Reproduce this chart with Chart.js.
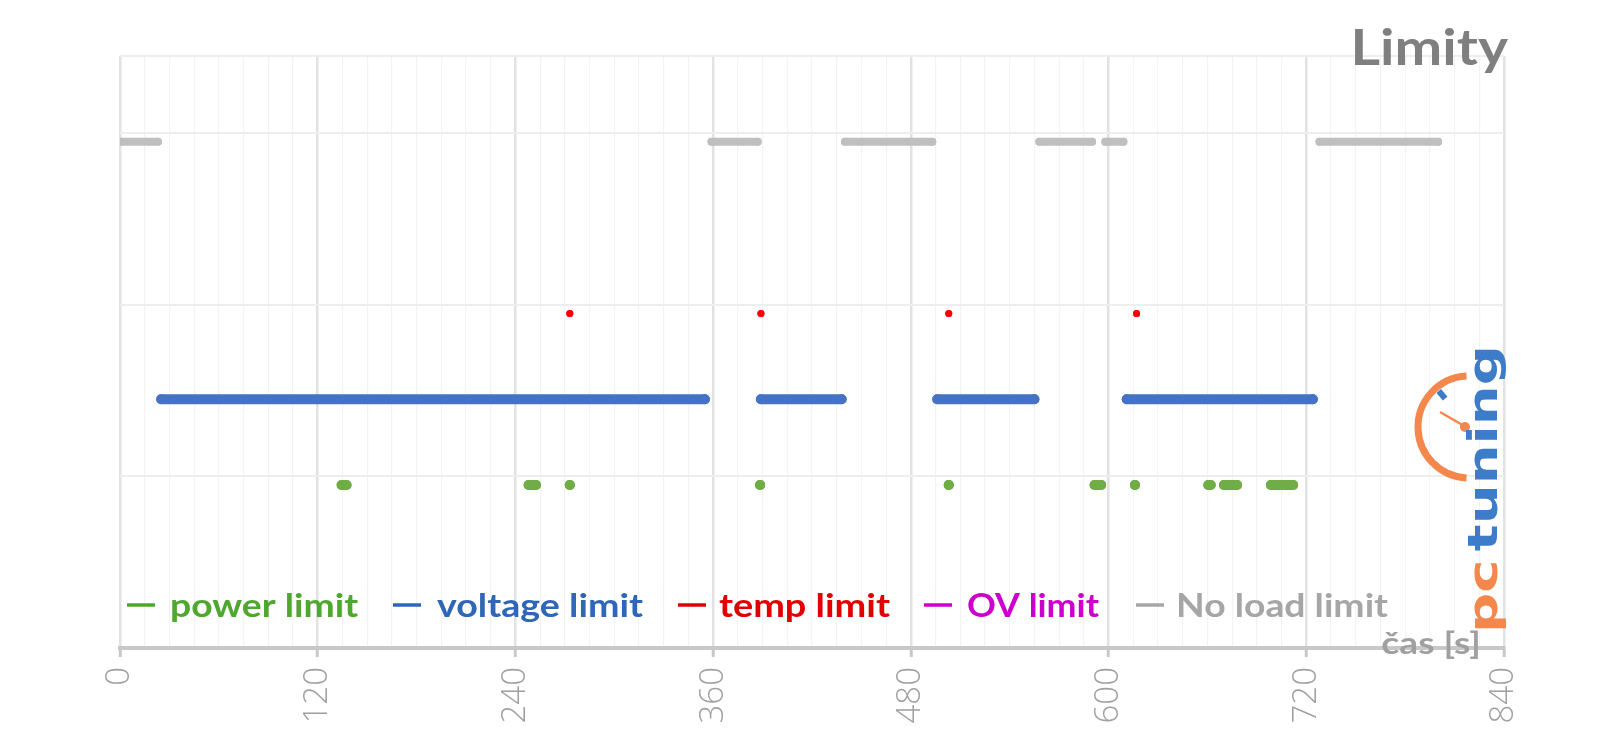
<!DOCTYPE html>
<html>
<head>
<meta charset="utf-8">
<script src="https://cdn.jsdelivr.net/npm/chart.js@4.4.1/dist/chart.umd.min.js"></script>
<style>
html,body{margin:0;padding:0;background:#fff;}
#wrap{width:1600px;height:745px;}
</style>
</head>
<body>
<div id="wrap"><canvas id="c" width="1600" height="745"></canvas></div>
<script>
// ---- data (seconds) ----
const xTickLabels = [0, 120, 240, 360, 480, 600, 720, 840];
const seriesNames = ['power limit', 'voltage limit', 'temp limit', 'OV limit', 'No load limit'];
const powerLevel = 0.95, voltageLevel = 1.45, tempLevel = 1.95, ovLevel = 2.45, noLoadLevel = 2.95;
const powerSegments = [[134.5,137.5],[248,252.5],[273,273],[388.5,388.5],[503,503],[591.5,595.5],[616,616],[660.5,662],[670,678],[698.5,712]];
const voltageSegments = [[25,355],[389,438],[496,555],[611,724]];
const tempPoints = [273, 389, 503, 617];
const ovSegments = [];
const noLoadSegments = [[0,23],[359,387],[440,493],[558,590],[598,609],[728,800]];

const seriesColors = ['#70ad47', '#4472c4', '#ff0000', '#cc00cc', '#bfbfbf'];
const legendColors = ['#4ea72e', '#2f66b8', '#e00000', '#cc00cc', '#a6a6a6'];
const legendLineX = [127, 393, 678, 924, 1136];
const legendTextX = [170, 437, 719, 967, 1176];
const legendTextW = [188, 206, 171, 132, 212];

function segData(segs, level) {
  const out = [];
  segs.forEach(([a, b]) => {
    out.push({x: a, y: level});
    out.push({x: b, y: level});
    out.push({x: b, y: null});
  });
  return out;
}
function pointData(pts, level) {
  const out = [];
  pts.forEach(p => { out.push({x: p, y: level}); out.push({x: p, y: null}); });
  return out;
}

const datasets = [
  {label: seriesNames[0], data: segData(powerSegments, powerLevel), color: seriesColors[0], w: 10},
  {label: seriesNames[1], data: segData(voltageSegments, voltageLevel), color: seriesColors[1], w: 10},
  {label: seriesNames[2], data: pointData(tempPoints, tempLevel), color: seriesColors[2], w: 7},
  {label: seriesNames[3], data: segData(ovSegments, ovLevel), color: seriesColors[3], w: 10},
  {label: seriesNames[4], data: segData(noLoadSegments, noLoadLevel), color: seriesColors[4], w: 8}
].map(d => ({
  label: d.label,
  data: d.data,
  borderColor: d.color,
  backgroundColor: d.color,
  borderWidth: d.w,
  borderCapStyle: 'round',
  pointRadius: d.w / 2,
  pointBorderWidth: 0,
  pointHoverRadius: d.w / 2,
  spanGaps: false,
  tension: 0
}));

function stretchedText(ctx, text, x, y, sx) {
  ctx.save();
  ctx.translate(x, y);
  ctx.scale(sx, 1);
  ctx.fillText(text, 0, 0);
  ctx.restore();
  return ctx.measureText(text).width * sx;
}

const decor = {
  id: 'decor',
  afterDraw(chart) {
    const ctx = chart.ctx;
    ctx.save();
    ctx.textBaseline = 'alphabetic';
    ctx.textAlign = 'left';

    // Title
    ctx.font = 'bold 50px Lato';
    ctx.fillStyle = '#7f7f7f';
    const sT = 1.14;
    const wT = ctx.measureText('Limity').width * sT;
    stretchedText(ctx, 'Limity', 1508 - wT, 64.5, sT);

    // Legend (inside plot, bottom)
    ctx.font = 'bold 33px Lato';
    const ly = 605;
    seriesNames.forEach((name, i) => {
      ctx.strokeStyle = legendColors[i];
      ctx.lineWidth = 3.5;
      ctx.lineCap = 'butt';
      ctx.beginPath();
      ctx.moveTo(legendLineX[i], ly);
      ctx.lineTo(legendLineX[i] + 28, ly);
      ctx.stroke();
      ctx.fillStyle = legendColors[i];
      const sx = legendTextW[i] / ctx.measureText(name).width;
      stretchedText(ctx, name, legendTextX[i], 617, sx);
    });

    // Axis title (drawn over the axis line)
    ctx.font = 'bold 30px Lato';
    const t = 'čas [s]';
    const sA = 1.24;
    const tw = ctx.measureText(t).width * sA;
    ctx.fillStyle = '#a0a0a0';
    stretchedText(ctx, t, 1481 - tw, 654, sA);

    // Logo
    const cx = 1469, cy = 427;
    ctx.strokeStyle = '#f4874b';
    ctx.lineWidth = 7;
    ctx.lineCap = 'butt';
    ctx.beginPath();
    ctx.arc(cx, cy, 51, -1.62, 1.62, true);
    ctx.stroke();
    ctx.strokeStyle = '#3d7cc9';
    ctx.lineWidth = 6;
    ctx.beginPath();
    ctx.moveTo(cx + 37 * Math.cos(-2.27), cy + 37 * Math.sin(-2.27));
    ctx.lineTo(cx + 47 * Math.cos(-2.27), cy + 47 * Math.sin(-2.27));
    ctx.stroke();
    ctx.strokeStyle = '#f4874b';
    ctx.lineWidth = 2.5;
    ctx.beginPath();
    ctx.moveTo(cx - 3, cy);
    ctx.lineTo(1440, 412);
    ctx.stroke();
    ctx.fillStyle = '#f4874b';
    ctx.beginPath();
    ctx.arc(cx - 4, cy, 5, 0, Math.PI * 2);
    ctx.fill();

    ctx.translate(1497, 633);
    ctx.rotate(-Math.PI / 2);
    ctx.font = 'bold 40px "DejaVu Sans"';
    const w1 = ctx.measureText('pc').width;
    const w2 = ctx.measureText('tuning').width;
    const k = 288 / (w1 + w2 + 6);
    ctx.scale(k, 1);
    ctx.fillStyle = '#f4874b';
    ctx.fillText('pc', 0, 0);
    ctx.fillStyle = '#3d7cc9';
    ctx.fillText('tuning', w1 + 6, 0);
    ctx.restore();
  }
};

new Chart(document.getElementById('c'), {
  type: 'line',
  data: {datasets},
  options: {
    responsive: false,
    animation: false,
    events: [],
    layout: {padding: {left: 120, right: 96, top: 56, bottom: 0}},
    plugins: {legend: {display: false}, tooltip: {enabled: false}, title: {display: false}},
    scales: {
      x: {
        type: 'linear',
        min: 0,
        max: 840,
        afterFit: s => { s.height = 97; },
        afterBuildTicks: s => {
          const ticks = [];
          for (let v = 0; v <= 840; v += 15) ticks.push({value: v});
          s.ticks = ticks;
        },
        ticks: {
          autoSkip: false,
          minRotation: 90,
          maxRotation: 90,
          padding: 10,
          color: '#a0a0a0',
          font: {family: '"Open Sans"', size: 33, weight: '300'},
          callback: v => (xTickLabels.includes(v) ? String(v) : '')
        },
        grid: {
          drawOnChartArea: true,
          drawTicks: true,
          tickLength: 9,
          color: c => (c.tick && c.tick.value % 120 === 0 ? '#e2e2e2' : '#f3f3f3'),
          lineWidth: c => (c.tick && c.tick.value % 120 === 0 ? 2.5 : 1.2),
          tickColor: c => (c.tick && c.tick.value % 120 === 0 ? '#c8c8c8' : 'rgba(0,0,0,0)'),
          tickWidth: 3
        },
        border: {display: true, color: '#c8c8c8', width: 4}
      },
      y: {
        min: 0,
        max: 3.45,
        afterFit: s => { s.width = 0; },
        ticks: {display: false, stepSize: 1},
        grid: {color: '#eeeeee', lineWidth: 2, drawTicks: false},
        border: {display: false}
      }
    }
  },
  plugins: [decor]
});
</script>
</body>
</html>
